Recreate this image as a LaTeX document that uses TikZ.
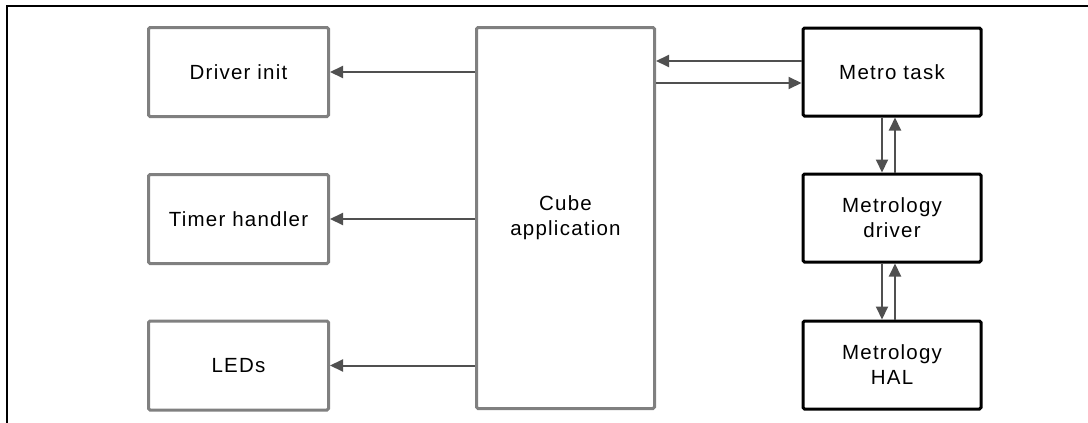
\documentclass[tikz,border=0pt]{standalone}
\usepackage{fontspec}
\setmainfont{Liberation Sans}[LetterSpace=6]
\usetikzlibrary{arrows.meta}
\definecolor{boxgray}{HTML}{808080}
\definecolor{arrowgray}{HTML}{505050}
\tikzset{
  graybox/.style={draw=boxgray, line width=3pt, rounded corners=1.5pt, minimum width=180pt, minimum height=89pt, align=center, font=\fontsize{20.5}{25}\selectfont, inner sep=0pt},
  blackbox/.style={draw=black, line width=3pt, rounded corners=1.5pt, minimum width=178pt, minimum height=88pt, align=center, font=\fontsize{20.5}{25}\selectfont, inner sep=0pt},
  conn/.style={draw=arrowgray, line width=2pt, -{Triangle[length=13pt,width=12pt]}},
  frameline/.style={draw=black, line width=2.2pt}
}
\begin{document}
\begin{tikzpicture}[x=1pt,y=-1pt]
\useasboundingbox (0,0) rectangle (1088,423);
\coordinate (ftop) at (7,6);
\coordinate (fright) at (1088,6);
\coordinate (fbot) at (7,423);
\draw[frameline] (fright) -- (ftop) -- (fbot);

\node[graybox] (di) at (238.5,72) {Driver init};
\node[graybox] (th) at (238.5,219) {Timer handler};
\node[graybox] (led) at (238.5,365.5) {LEDs};
\node[graybox, minimum width=178pt, minimum height=381pt] (cube) at (565.5,218) {Cube\\application};

\node[blackbox] (mt) at (892,72) {Metro task};
\node[blackbox] (md) at (892,218) {Metrology\\driver};
\node[blackbox] (mh) at (892,365) {Metrology\\HAL};

\draw[conn] (cube.west |- di.east) -- (di.east);
\draw[conn] (cube.west |- th.east) -- (th.east);
\draw[conn] (cube.west |- led.east) -- (led.east);

\coordinate (mtin) at ([yshift=-11pt]mt.west);
\coordinate (mtout) at ([yshift=11pt]mt.west);
\draw[conn] (mtout) -- (cube.east |- mtout);
\draw[conn] (cube.east |- mtin) -- (mtin);

\draw[conn] ([xshift=-10pt]mt.south) -- ([xshift=-10pt]md.north);
\draw[conn] ([xshift=3pt]md.north) -- ([xshift=3pt]mt.south);
\draw[conn] ([xshift=-10pt]md.south) -- ([xshift=-10pt]mh.north);
\draw[conn] ([xshift=3pt]mh.north) -- ([xshift=3pt]md.south);
\end{tikzpicture}
\end{document}
